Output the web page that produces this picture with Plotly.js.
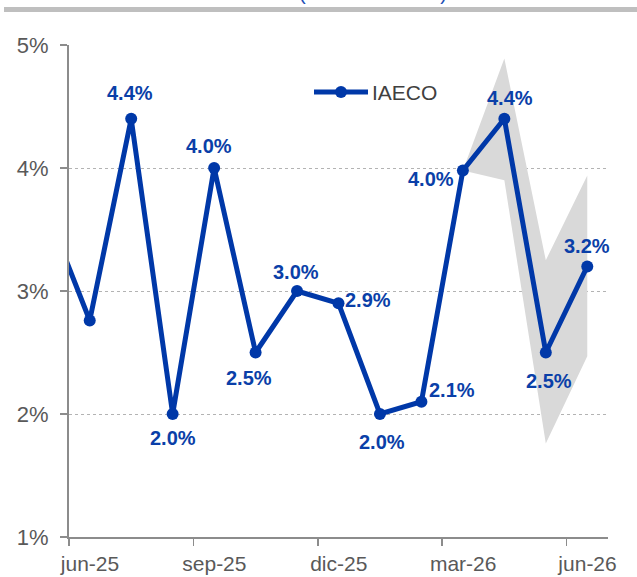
<!DOCTYPE html>
<html>
<head>
<meta charset="utf-8">
<script src="https://cdn.plot.ly/plotly-3.0.1.min.js"></script>
<style>html,body{margin:0;padding:0;background:#fff}#chart{width:637px;height:577px}</style>
</head>
<body>
<div id="chart"></div>
<script>
// ---- data ----
const months = ['may-25','jun-25','jul-25','ago-25','sep-25','oct-25','nov-25','dic-25','ene-26','feb-26','mar-26','abr-26','may-26','jun-26'];
const iaeco  = [3.62, 2.76, 4.4, 2.0, 4.0, 2.5, 3.0, 2.9, 2.0, 2.1, 3.98, 4.4, 2.5, 3.2];
const labeled = ['jul-25','ago-25','sep-25','oct-25','nov-25','dic-25','ene-26','feb-26','mar-26','abr-26','may-26','jun-26'];
const bandMonths = ['mar-26','abr-26','may-26','jun-26'];
const bandUpper  = [3.98, 4.89, 3.25, 3.94];
const bandLower  = [3.98, 3.90, 1.76, 2.47];
const tickLabels = ['jun-25','sep-25','dic-25','mar-26','jun-26'];
const yTicks = [1, 2, 3, 4, 5];
const seriesName = 'IAECO';
const titleText = '(variación anual)';

// ---- styles ----
const BLUE = '#0038a8';
const LABEL_BLUE = '#0a3fa8';
const GRAY_TXT = '#595959';
const AXIS = '#8c8c8c';
// label offsets in px [dx, dy(down)] keyed by month
const labelOffsets = {
  'jul-25':[-1,-26],'ago-25':[0,24],'sep-25':[-5,-22],'oct-25':[-7,25],'nov-25':[-1,-19],
  'dic-25':[29,-3],'ene-26':[2,28],'feb-26':[31,-12],'mar-26':[-32,9],'abr-26':[6,-21],
  'may-26':[3,28],'jun-26':[0,-20]
};

const xi = m => months.indexOf(m);
const xAll = months.map((m,i)=>i);
const bandX = bandMonths.map(xi);

const traces = [
  {x: bandX, y: bandLower, type:'scatter', mode:'lines', line:{width:0, color:'rgba(0,0,0,0)'}, hoverinfo:'skip', showlegend:false},
  {x: bandX, y: bandUpper, type:'scatter', mode:'lines', fill:'tonexty', fillcolor:'#d9d9d9', line:{width:0, color:'rgba(0,0,0,0)'}, hoverinfo:'skip', showlegend:false},
  {x: xAll, y: iaeco, type:'scatter', mode:'lines+markers', name: seriesName,
   line:{color:BLUE, width:5}, marker:{color:BLUE, size:12}, showlegend:false}
];

const annotations = labeled.map(m => {
  const i = xi(m); const o = labelOffsets[m];
  return {x:i, y:iaeco[i], xref:'x', yref:'y', text: '<b>'+iaeco[i].toFixed(1)+'%</b>', showarrow:false,
    xshift:o[0], yshift:-o[1], font:{family:'Liberation Sans, Arial, sans-serif', size:20, color:LABEL_BLUE}};
});

// paper helpers (plot area 539 x 492, margins l69 t45)
const PW = 539, PH = 492, ML = 69, MT = 45;
const px = p => (p-ML)/PW;
const py = p => 1 + (MT-p)/PH;

annotations.push({xref:'paper', yref:'paper', x:px(297), y:py(6), xanchor:'left', yanchor:'bottom',
  text:titleText, showarrow:false, font:{family:'Liberation Sans, Arial, sans-serif', size:20, color:'#1f4fb5'}});
// legend text
annotations.push({xref:'paper', yref:'paper', x:px(370), y:py(92), xanchor:'left', yanchor:'middle',
  text:seriesName, showarrow:false, font:{family:'Liberation Sans, Arial, sans-serif', size:21, color:'#404040'}});

const shapes = [
  {type:'rect', xref:'paper', yref:'paper', x0:px(4), x1:px(640), y0:py(12), y1:py(7), fillcolor:'#bfbfbf', line:{width:0}, layer:'above'},
  {type:'line', xref:'paper', yref:'paper', x0:px(314), x1:px(368), y0:py(92), y1:py(92), line:{color:BLUE, width:5}},
  {type:'circle', xref:'paper', yref:'paper', x0:px(335), x1:px(347), y0:py(86), y1:py(98), fillcolor:BLUE, line:{width:0}}
];

const layout = {
  width:637, height:577,
  margin:{l:ML, r:637-ML-PW, t:MT, b:577-MT-PH, pad:0},
  paper_bgcolor:'#fff', plot_bgcolor:'#fff',
  showlegend:false,
  font:{family:'Liberation Sans, Arial, sans-serif', color:GRAY_TXT},
  xaxis:{range:[0.5, months.length-0.5], tickmode:'array',
    tickvals: tickLabels.map(t=>xi(t)-0.5), ticktext: tickLabels, ticklabelshift:21,
    ticks:'outside', ticklen:7, tickwidth:1.5, tickcolor:AXIS,
    showline:true, linecolor:AXIS, linewidth:2, showgrid:false, zeroline:false,
    tickfont:{size:21, color:GRAY_TXT}, fixedrange:true},
  yaxis:{range:[1,5], tickmode:'array', tickvals:yTicks, ticktext:yTicks.map(v=>v+'%'),
    ticks:'outside', ticklen:7, tickwidth:1.5, tickcolor:AXIS, ticklabelstandoff:7,
    showline:true, linecolor:AXIS, linewidth:2, showgrid:true, gridcolor:'#b3b3b3', griddash:'dot', gridwidth:1,
    zeroline:false, tickfont:{size:22, color:GRAY_TXT}, fixedrange:true},
  annotations: annotations,
  shapes: shapes
};

Plotly.newPlot('chart', traces, layout, {displayModeBar:false, staticPlot:true});
</script>
</body>
</html>
